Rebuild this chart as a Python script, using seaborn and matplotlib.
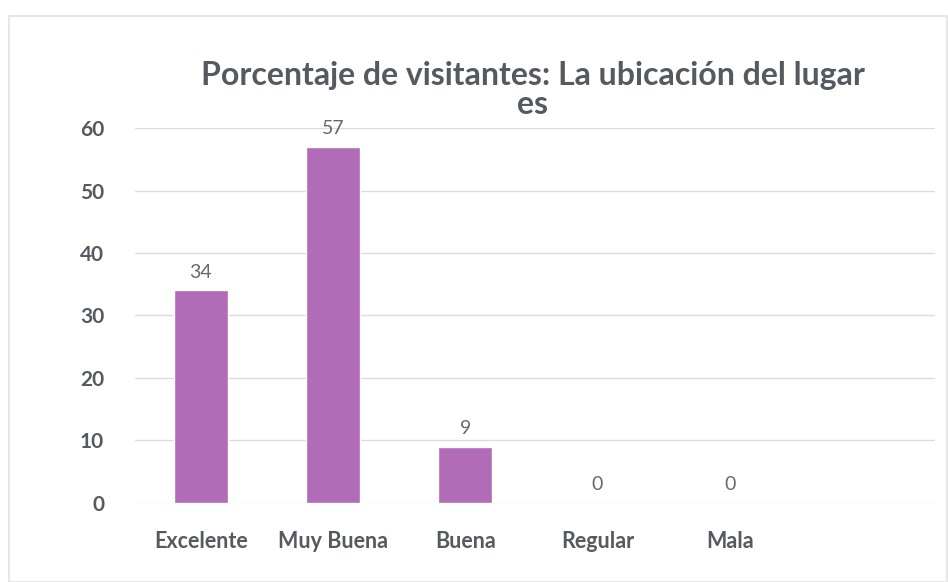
import matplotlib
matplotlib.use("Agg")
import matplotlib.pyplot as plt
import seaborn as sns
import pandas as pd

categorias = ["Excelente", "Muy Buena", "Buena", "Regular", "Mala"]
porcentajes = [34, 57, 9, 0, 0]
y_ticks = [0, 10, 20, 30, 40, 50, 60]

df = pd.DataFrame({"categoria": categorias, "porcentaje": porcentajes})

sns.set_style("white")
plt.rcParams['font.family'] = ['Lato', 'DejaVu Sans']

text_color = "#555a60"
bar_color = "#b26bb6"

fig = plt.figure(figsize=(9.48, 5.82), dpi=100)
ax = fig.add_axes([0.142, 0.136, 0.844, 0.644])

sns.barplot(data=df, x="categoria", y="porcentaje", color=bar_color,
            width=0.41, saturation=1, ax=ax)

ax.bar_label(ax.containers[0], fmt="%d", padding=7, fontsize=14,
             color="#6b6570")

ax.set_ylim(0, 60)
ax.set_xlim(-0.5, 5.55)
ax.set_yticks(y_ticks)
ax.yaxis.grid(True, color="#dcdcdc", linewidth=1)
ax.set_axisbelow(True)
for s in ax.spines.values():
    s.set_visible(False)

ax.tick_params(axis="y", length=0, pad=22, labelsize=15, labelcolor=text_color)
ax.tick_params(axis="x", length=0, pad=20, labelsize=15.5, labelcolor=text_color)
for lbl in ax.get_xticklabels() + ax.get_yticklabels():
    lbl.set_fontweight("bold")

ax.set_xlabel("")
ax.set_ylabel("")

fig.text(0.562, 0.846, "Porcentaje de visitantes: La ubicación del lugar\nes",
         ha="center", va="center", fontsize=23, fontweight="bold",
         color=text_color, linespacing=1.0)

# faint chart frame
fig.patches.append(plt.Rectangle((0.009, 0.0), 0.99, 0.972, transform=fig.transFigure,
                                 fill=False, edgecolor="#e2e2e2", linewidth=1.2))

fig.savefig("out.png", dpi=100, facecolor="white")
